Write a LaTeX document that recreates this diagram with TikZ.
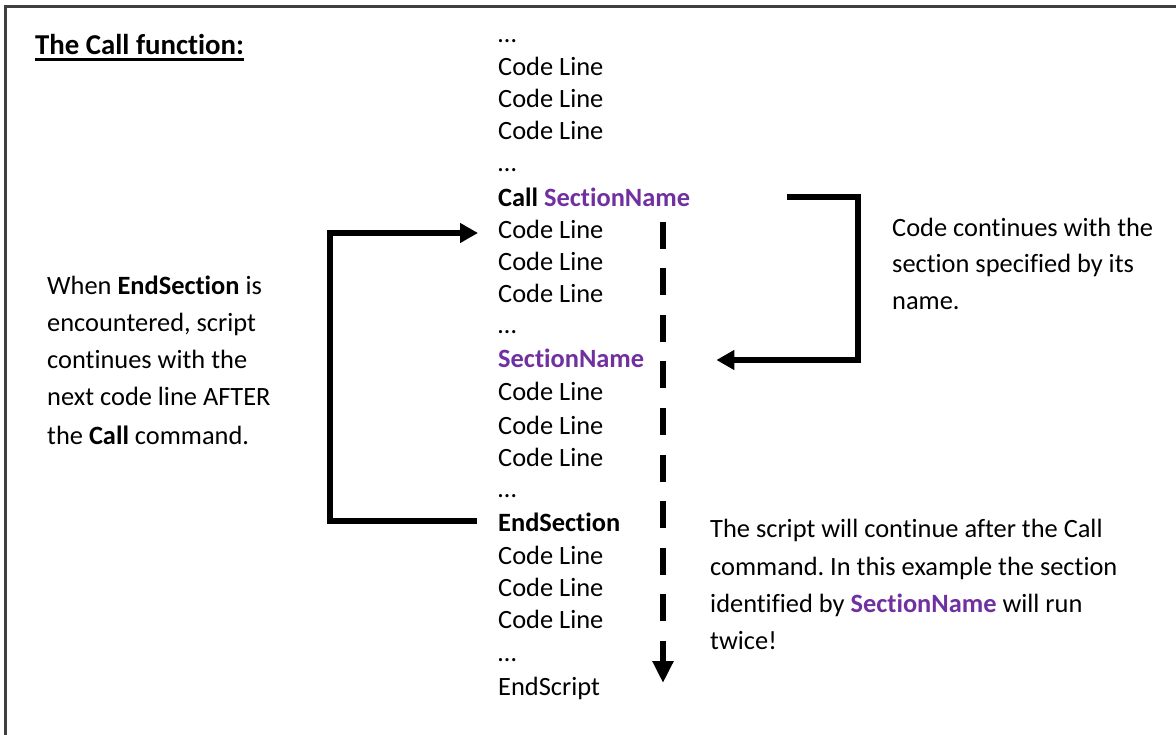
\documentclass[tikz,border=0pt]{standalone}
\usepackage{fontspec}
\setmainfont[RawFeature={-liga;-dlig;-calt;-clig}]{Carlito}
\usetikzlibrary{arrows.meta}
\definecolor{sname}{HTML}{7030A0}
\definecolor{framecol}{HTML}{3F3F3F}
\newcommand{\sn}{\textcolor{sname}{\textbf{SectionName}}}
\frenchspacing
\begin{document}
\begin{tikzpicture}[x=1pt,y=-1pt,
  txt/.style={anchor=base west, inner sep=0pt, font=\fontsize{26.4}{32}\selectfont},
  ttl/.style={anchor=base west, inner sep=0pt, font=\fontsize{28.8}{34}\selectfont\bfseries},
  flow/.style={line width=6pt, line join=miter, -{Triangle[length=18pt,width=19pt]}},
  dflow/.style={line width=6pt, dash pattern=on 27pt off 19.5pt, -{Triangle[length=22pt,width=20pt]}},
  border/.style={line width=2.5pt, draw=framecol, line join=miter}]
\useasboundingbox (0,0) rectangle (1176,735);
% frame (top and left edges visible)
\draw[border] (5.5,735) -- (5.5,6.5) -- (1176,6.5);
% title
\node[ttl] (title) at (35,55) {The Call function:};
\draw[line width=2.2pt] ([yshift=-4.5pt]title.base west) -- ([yshift=-4.5pt]title.base east);
% code column
\node[txt] (c01) at (498,43)  {…};
\node[txt] (c02) at (498,76)  {Code Line};
\node[txt] (c03) at (498,108) {Code Line};
\node[txt] (c04) at (498,140) {Code Line};
\node[txt] (c05) at (498,172) {…};
\node[txt] (call) at (498,207) {\textbf{Call} \sn};
\node[txt] (c07) at (498,239) {Code Line};
\node[txt] (c08) at (498,271) {Code Line};
\node[txt] (c09) at (498,303) {Code Line};
\node[txt] (c10) at (498,334) {…};
\node[txt] (sec) at (498,368) {\sn};
\node[txt] (c12) at (498,400) {Code Line};
\node[txt] (c13) at (498,434) {Code Line};
\node[txt] (c14) at (498,466) {Code Line};
\node[txt] (c15) at (498,497) {…};
\node[txt] (endsec) at (498,531) {\textbf{EndSection}};
\node[txt] (c17) at (498,564) {Code Line};
\node[txt] (c18) at (498,596) {Code Line};
\node[txt] (c19) at (498,628) {Code Line};
\node[txt] (c20) at (498,661) {…};
\node[txt] (c21) at (498,695) {EndScript};
% left note
\node[txt] (l1) at (47,295) {When \textbf{EndSection} is};
\node[txt] (l2) at (47,332) {encountered, script};
\node[txt] (l3) at (47,369) {continues with the};
\node[txt] (l4) at (47,406) {next code line AFTER};
\node[txt] (l5) at (47,444) {the \textbf{Call} command.};
% right top note
\node[txt] (r1) at (892,237) {Code continues with the};
\node[txt] (r2) at (892,273) {section specified by its};
\node[txt] (r3) at (892,310) {name.};
% bottom right note
\node[txt] (b1) at (710,537) {The script will continue after the Call};
\node[txt] (b2) at (710,575) {command. In this example the section};
\node[txt] (b3) at (710,612) {identified by \sn{} will run};
\node[txt] (b4) at (710,649) {twice!};
% connector anchor points
\coordinate (callout) at ([xshift=97pt,yshift=10pt]call.base east);
\coordinate (secin)   at ([xshift=72pt,yshift=8pt]sec.base east);
\coordinate (endout)  at ([xshift=-21pt,yshift=10pt]endsec.base west);
\coordinate (codein)  at ([xshift=-20pt,yshift=6pt]c07.base west);
\coordinate (dtop) at (663,222);
\coordinate (dbot) at (663,683);
% connectors
\draw[flow] (callout) -- ++(71,0) |- (secin);
\draw[flow] (endout) -- ++(-147,0) |- (codein);
\draw[dflow] (dtop) -- (dbot);
\end{tikzpicture}
\end{document}
